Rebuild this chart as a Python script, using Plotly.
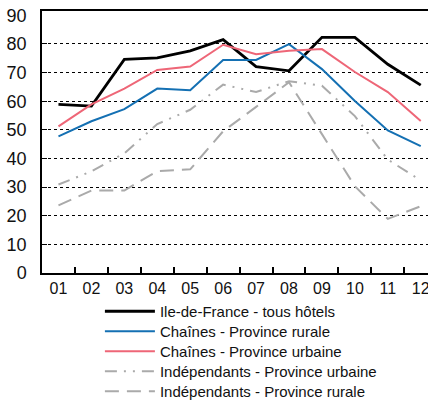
import plotly.graph_objects as go

months = ["01", "02", "03", "04", "05", "06", "07", "08", "09", "10", "11", "12"]
idf_tous = [58.9, 58.3, 74.6, 75.1, 77.6, 81.5, 72.1, 70.6, 82.3, 82.3, 72.9, 65.6]
chaines_rurale = [47.7, 53.0, 57.2, 64.4, 63.8, 74.4, 74.4, 79.9, 71.2, 60.1, 49.8, 44.3]
chaines_urbaine = [51.2, 58.9, 64.4, 70.9, 72.1, 79.7, 76.4, 77.6, 78.2, 70.2, 63.2, 53.1]
indep_urbaine = [30.9, 35.5, 41.8, 52.0, 57.0, 65.8, 63.2, 67.0, 65.4, 54.8, 39.6, 32.3]
indep_rurale = [23.6, 28.8, 28.8, 35.6, 36.2, 49.5, 58.0, 66.6, 48.5, 30.3, 18.9, 23.3]
y_ticks = [0, 10, 20, 30, 40, 50, 60, 70, 80, 90]
grid_vals = [10, 20, 30, 40, 50, 60, 70, 80]

FONT = "Liberation Sans, Arial, sans-serif"

series = [
    ("Ile-de-France - tous hôtels", idf_tous, "#000000", "solid", 2.8),
    ("Chaînes - Province rurale", chaines_rurale, "#1470b3", "solid", 2.0),
    ("Chaînes - Province urbaine", chaines_urbaine, "#ee6677", "solid", 2.0),
    ("Indépendants - Province urbaine", indep_urbaine, "#aaaaaa", "12px,7px,2px,7px,2px,7px", 2.0),
    ("Indépendants - Province rurale", indep_rurale, "#aaaaaa", "14px,8px", 2.0),
]

W, H = 428, 401
ML, MT, MB = 42, 11, 128
plot_h = H - MT - MB

fig = go.Figure()
legends = {}
for i, (name, vals, color, dash, w) in enumerate(series):
    key = "legend" if i == 0 else f"legend{i + 1}"
    fig.add_trace(go.Scatter(
        x=months, y=vals, name=name, mode="lines",
        line=dict(color=color, width=w, dash=dash),
        legend=key,
    ))
    row_y = 311.5 + 20 * i  # pixel row centre
    legends[key] = dict(
        x=0.15, xanchor="left",
        y=(H - MB - row_y) / plot_h, yanchor="middle",
        font=dict(family=FONT, size=15, color="#111111"),
        itemwidth=50, bgcolor="rgba(0,0,0,0)",
    )

# invisible trace on yaxis2 for dotted grid lines
fig.add_trace(go.Scatter(x=months, y=[None] * len(months), yaxis="y2",
                         showlegend=False, hoverinfo="skip"))

fig.update_layout(
    width=W, height=H,
    margin=dict(l=ML, r=0, t=MT, b=MB, autoexpand=False),
    paper_bgcolor="white", plot_bgcolor="white",
    font=dict(family=FONT, color="#111111"),
    showlegend=True,
    xaxis=dict(
        type="category", range=[-0.5, 11.22], automargin=False,
        showline=True, linecolor="black", linewidth=1.5, mirror=True,
        ticks="inside", tickson="boundaries", ticklen=6, tickcolor="black", tickwidth=1.5,
        showgrid=False, zeroline=False, ticklabeloverflow="allow",
        tickfont=dict(family=FONT, size=16, color="#111111"),
    ),
    yaxis=dict(
        range=[0, 91.5], tickvals=y_ticks, automargin=False,
        showline=True, linecolor="black", linewidth=1.5,
        showgrid=False, zeroline=False, ticks="",
        ticklabelstandoff=10,
        tickfont=dict(family=FONT, size=18, color="#111111"),
    ),
    yaxis2=dict(
        range=[0, 91.5], overlaying="y", side="left", automargin=False,
        tickvals=grid_vals, showticklabels=False,
        ticks="inside", ticklen=5, tickcolor="black", tickwidth=1,
        showgrid=True, gridcolor="black", gridwidth=1, griddash="dot",
        zeroline=False, showline=False,
    ),
    **legends,
)

fig.write_html(
    "out.html",
    config={"displayModeBar": False},
    post_script="document.body.style.margin='0';document.body.style.overflow='hidden';",
)
